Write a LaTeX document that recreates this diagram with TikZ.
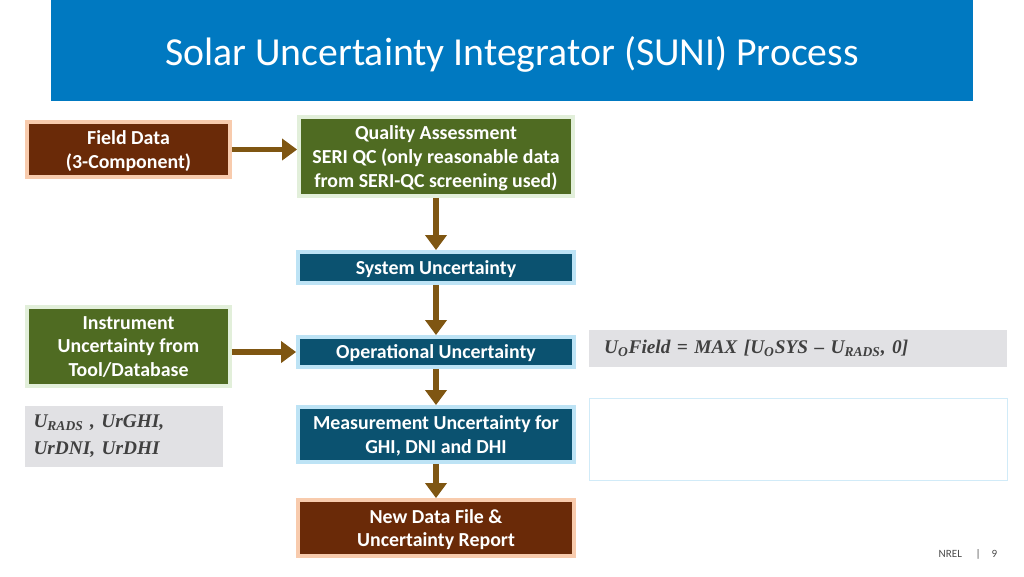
\documentclass[tikz,border=0pt]{standalone}
\usepackage{fontspec}
\setmainfont{Carlito}
\newfontfamily\formulafont{Liberation Serif}
\usetikzlibrary{arrows.meta, positioning}
\definecolor{suniblue}{RGB}{0,121,193}
\definecolor{sunibrown}{RGB}{106,42,8}
\definecolor{suniPeach}{RGB}{248,203,173}
\definecolor{sunigreen}{RGB}{79,107,34}
\definecolor{suniLime}{RGB}{226,239,218}
\definecolor{suniteal}{RGB}{11,82,112}
\definecolor{suniSky}{RGB}{189,227,245}
\definecolor{sunigray}{RGB}{225,225,228}
\definecolor{suniarrow}{RGB}{127,86,18}

\begin{document}
\begin{tikzpicture}[x=0.02cm, y=-0.02cm,
    procbox/.style={draw, line width=2.2pt, text=white, align=center, text depth=-3.3pt,
      font=\bfseries\fontsize{11.3}{13.6}\selectfont, inner sep=0pt},
    brownbox/.style={procbox, fill=sunibrown, draw=suniPeach},
    greenbox/.style={procbox, fill=sunigreen, draw=suniLime},
    tealbox/.style={procbox, fill=suniteal, draw=suniSky},
    notebox/.style={fill=sunigray, align=left, inner sep=0pt, text=black!75,
      font=\formulafont\bfseries\itshape\fontsize{11}{15.3}\selectfont},
    flowarrow/.style={draw=suniarrow, line width=3.4pt,
      -{Triangle[length=0.3cm, width=0.42cm]}}]
  \useasboundingbox (0,0) rectangle (1024,576);
  % title banner
  \fill[suniblue] (51,0) rectangle (973,101);
  \node[text=white, font=\fontsize{22.6}{27}\selectfont] (title) at (512,54)
    {Solar Uncertainty Integrator (SUNI) Process};
  % main flow column
  \node[greenbox, minimum width=5.48cm, minimum height=1.58cm] (qa) at (436,156.5)
    {Quality Assessment\\SERI QC (only reasonable data\\from SERI-QC screening used)};
  \node[tealbox, minimum width=5.52cm, minimum height=0.62cm] (sys) at (436,267.5)
    {System Uncertainty};
  \node[tealbox, minimum width=5.52cm, minimum height=0.6cm] (oper) at (436,352)
    {Operational Uncertainty};
  \node[tealbox, minimum width=5.52cm, minimum height=1.1cm] (meas) at (436,434.5)
    {Measurement Uncertainty for\\GHI, DNI and DHI};
  \node[brownbox, minimum width=5.52cm, minimum height=1.12cm] (report) at (436,528)
    {New Data File \&\\Uncertainty Report};
  % inputs on the left
  \node[brownbox, minimum width=4.06cm, minimum height=1.1cm] (field) at (128.5,149.5)
    {Field Data\\(3-Component)};
  \node[greenbox, minimum width=4.06cm, minimum height=1.58cm] (instr) at (128.5,346.5)
    {Instrument\\Uncertainty from\\Tool/Database};
  \node[notebox, minimum width=3.96cm, minimum height=1.22cm, text width=3.62cm] (rads) at (124,436.5)
    {U\textsubscript{RADS} , UrGHI,\\UrDNI, UrDHI};
  % formula and empty panel on the right
  \node[notebox, minimum width=8.36cm, minimum height=0.74cm, text width=7.76cm] (formula) at (798,348.5)
    {U\textsubscript{O}Field = MAX [U\textsubscript{O}SYS – U\textsubscript{RADS}, 0]};
  \node[draw=suniSky!70, fill=white, line width=0.4pt, minimum width=8.36cm, minimum height=1.64cm] (blank) at (798,439) {};
  % arrows
  \draw[flowarrow] (field.east) -- (field.east -| qa.west);
  \draw[flowarrow] (instr.east |- oper) -- (oper.west);
  \foreach \a/\b in {qa/sys, sys/oper, oper/meas, meas/report} {
    \draw[flowarrow] (\a.south) -- (\b.north);
  }
  % footer
  \node[text=black!70, font=\fontsize{6.3}{7}\selectfont] (footer) at (968,554) {NREL \quad|\quad 9};
\end{tikzpicture}
\end{document}
